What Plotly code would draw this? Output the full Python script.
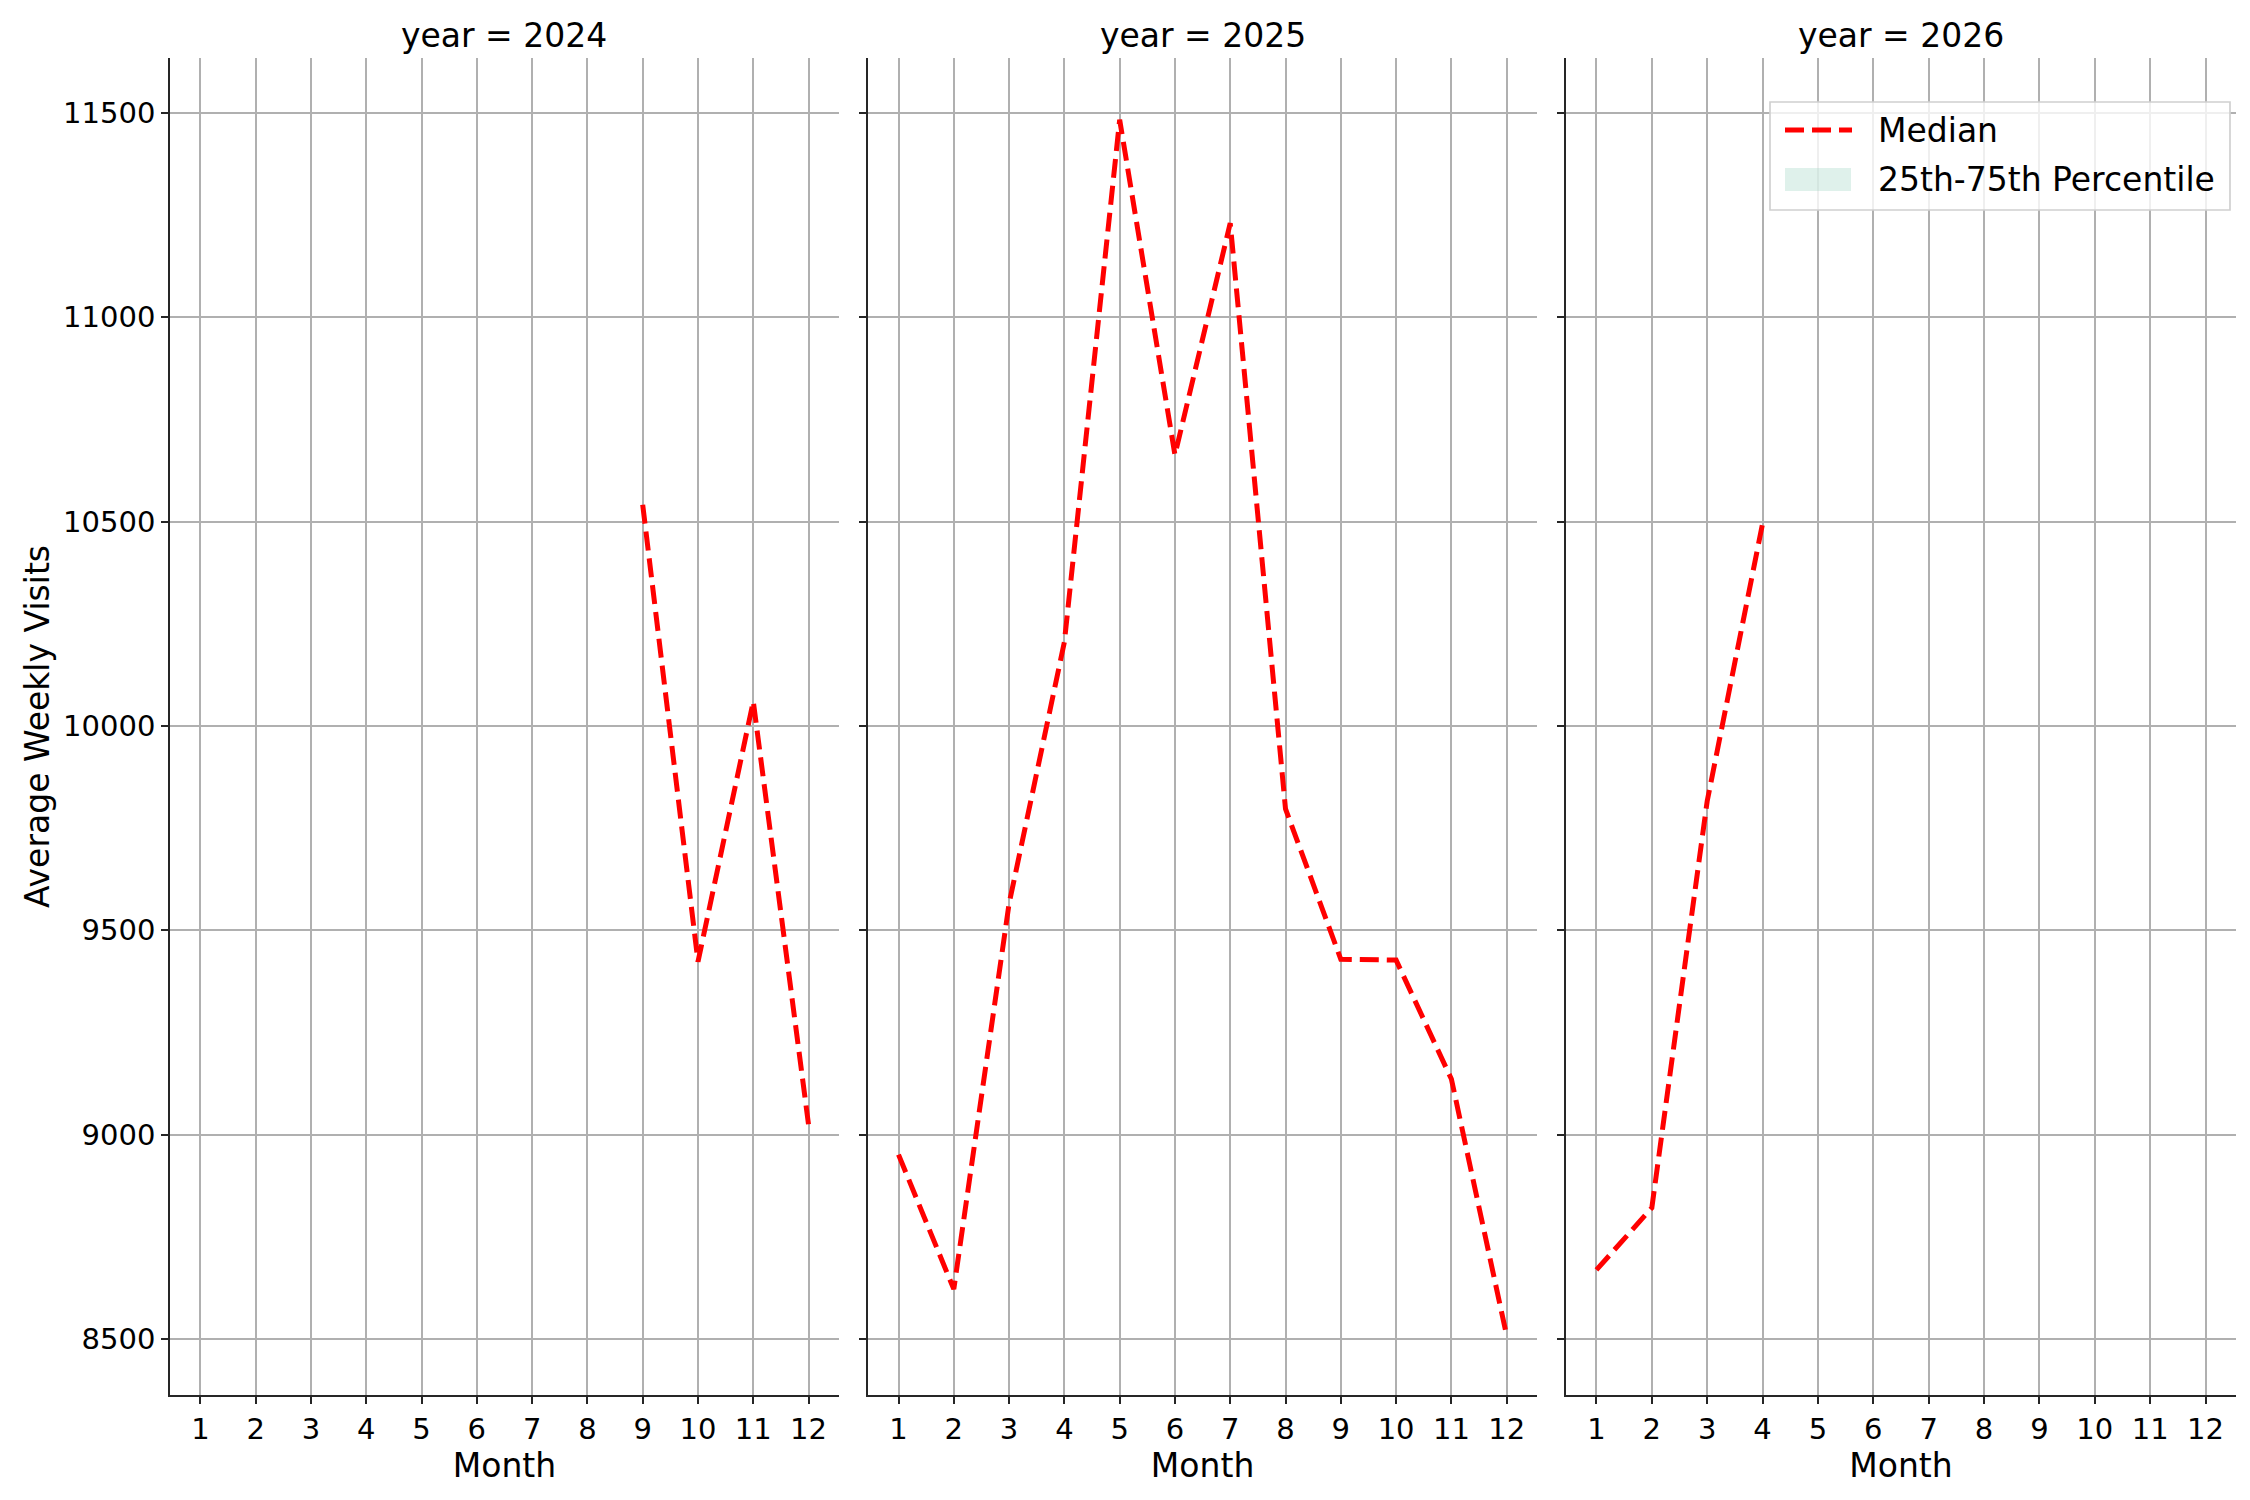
import plotly.graph_objects as go

# median of average weekly visits per month, one panel per year
years = [2024, 2025, 2026]
months = list(range(1, 13))
y_ticks = [8500, 9000, 9500, 10000, 10500, 11000, 11500]

months_2024 = [9, 10, 11, 12]
median_2024 = [10541, 9423, 10060, 9024]

months_2025 = list(range(1, 13))
median_2025 = [8951, 8622, 9565, 10205, 11483, 10663, 11230, 9797, 9429, 9427, 9136, 8508]

months_2026 = [1, 2, 3, 4]
median_2026 = [8669, 8821, 9816, 10495]

# 25th-75th percentile band has no drawn values in the chart (legend entry only)
band_months = []
band_low = []
band_high = []

series = {
    2024: (months_2024, median_2024),
    2025: (months_2025, median_2025),
    2026: (months_2026, median_2026),
}

FONT = "DejaVu Sans"
GRID = "#b0b0b0"
SPINE = "#262626"
BAND = "rgba(148, 209, 190, 0.3)"

# page body has an 8px margin, so the figure is a bit smaller than the window
OFF = 8
W, H = 2250 - OFF, 1500 - OFF
L, R, T, B = 162, 14, 50, 105


def px_x(px):
    # window pixel column -> paper x
    return (px - OFF - L) / (W - L - R)


def px_y(py):
    # window pixel row -> paper y
    return (H - B - (py - OFF)) / (H - T - B)


fig = go.Figure()

domains = [[0.0, 0.3238], [0.3379, 0.6617], [0.6757, 1.0]]

for i, yr in enumerate(years):
    suffix = "" if i == 0 else str(i + 1)
    xm, ym = series[yr]
    fig.add_trace(go.Scatter(
        x=xm, y=ym, mode="lines",
        line=dict(color="red", width=5, dash="19px,8px"),
        name="Median", showlegend=False,
        xaxis="x" + suffix, yaxis="y" + suffix,
    ))

# percentile band (nothing to draw)
fig.add_trace(go.Scatter(
    x=band_months + band_months[::-1],
    y=band_high + band_low[::-1],
    fill="toself", mode="none", fillcolor=BAND,
    name="25th-75th Percentile", showlegend=False,
    xaxis="x3", yaxis="y3",
))

layout = dict(
    width=W, height=H,
    paper_bgcolor="white", plot_bgcolor="white",
    margin=dict(l=L, r=R, t=T, b=B, autoexpand=False),
    font=dict(family=FONT, size=29, color="black"),
    showlegend=False,
)

annotations = []
for i, yr in enumerate(years):
    suffix = "" if i == 0 else str(i + 1)
    layout["xaxis" + suffix] = dict(
        domain=domains[i], range=[0.45, 12.55],
        tickmode="array", tickvals=months, ticktext=[str(m) for m in months],
        showgrid=True, gridcolor=GRID, gridwidth=1.6,
        showline=True, linecolor=SPINE, linewidth=1.7,
        ticks="outside", ticklen=7, tickwidth=1.7, tickcolor=SPINE,
        tickfont=dict(size=29), zeroline=False, automargin=False,
        title=dict(text="Month", font=dict(size=33), standoff=4),
        anchor="y" + suffix,
    )
    layout["yaxis" + suffix] = dict(
        range=[8363, 11634],
        tickmode="array", tickvals=y_ticks, ticktext=[str(v) for v in y_ticks],
        showgrid=True, gridcolor=GRID, gridwidth=1.6,
        showline=True, linecolor=SPINE, linewidth=1.7,
        ticks="outside", ticklen=7, tickwidth=1.7, tickcolor=SPINE,
        tickfont=dict(size=29), zeroline=False, automargin=False,
        showticklabels=(i == 0),
        anchor="x" + suffix,
    )
    if i > 0:
        layout["yaxis" + suffix]["matches"] = "y"
    annotations.append(dict(
        text=f"year = {yr}", showarrow=False,
        xref="x" + suffix + " domain", yref="paper",
        x=0.5, y=1.0, xanchor="center", yanchor="bottom", yshift=1,
        font=dict(size=33, family=FONT),
    ))

layout["yaxis"]["title"] = dict(text="Average Weekly Visits", font=dict(size=33), standoff=4)

# legend box (matplotlib style) in the last panel
shapes = [
    dict(type="rect", xref="paper", yref="paper",
         x0=px_x(1770), x1=px_x(2230), y0=px_y(210), y1=px_y(102),
         fillcolor="rgba(255,255,255,0.8)", line=dict(color="#d0d0d0", width=1.7)),
    dict(type="line", xref="paper", yref="paper",
         x0=px_x(1785), x1=px_x(1852), y0=px_y(130), y1=px_y(130),
         line=dict(color="red", width=5, dash="19px,8px")),
    dict(type="rect", xref="paper", yref="paper",
         x0=px_x(1785), x1=px_x(1851), y0=px_y(191), y1=px_y(168),
         fillcolor=BAND, line=dict(width=0)),
]
annotations.append(dict(
    text="Median", showarrow=False, xref="paper", yref="paper",
    x=px_x(1876), y=px_y(130), xanchor="left", yanchor="middle",
    font=dict(size=33, family=FONT),
))
annotations.append(dict(
    text="25th-75th Percentile", showarrow=False, xref="paper", yref="paper",
    x=px_x(1876), y=px_y(179), xanchor="left", yanchor="middle",
    font=dict(size=33, family=FONT),
))

layout["annotations"] = annotations
layout["shapes"] = shapes

fig.update_layout(**layout)

fig.write_html("out.html")
